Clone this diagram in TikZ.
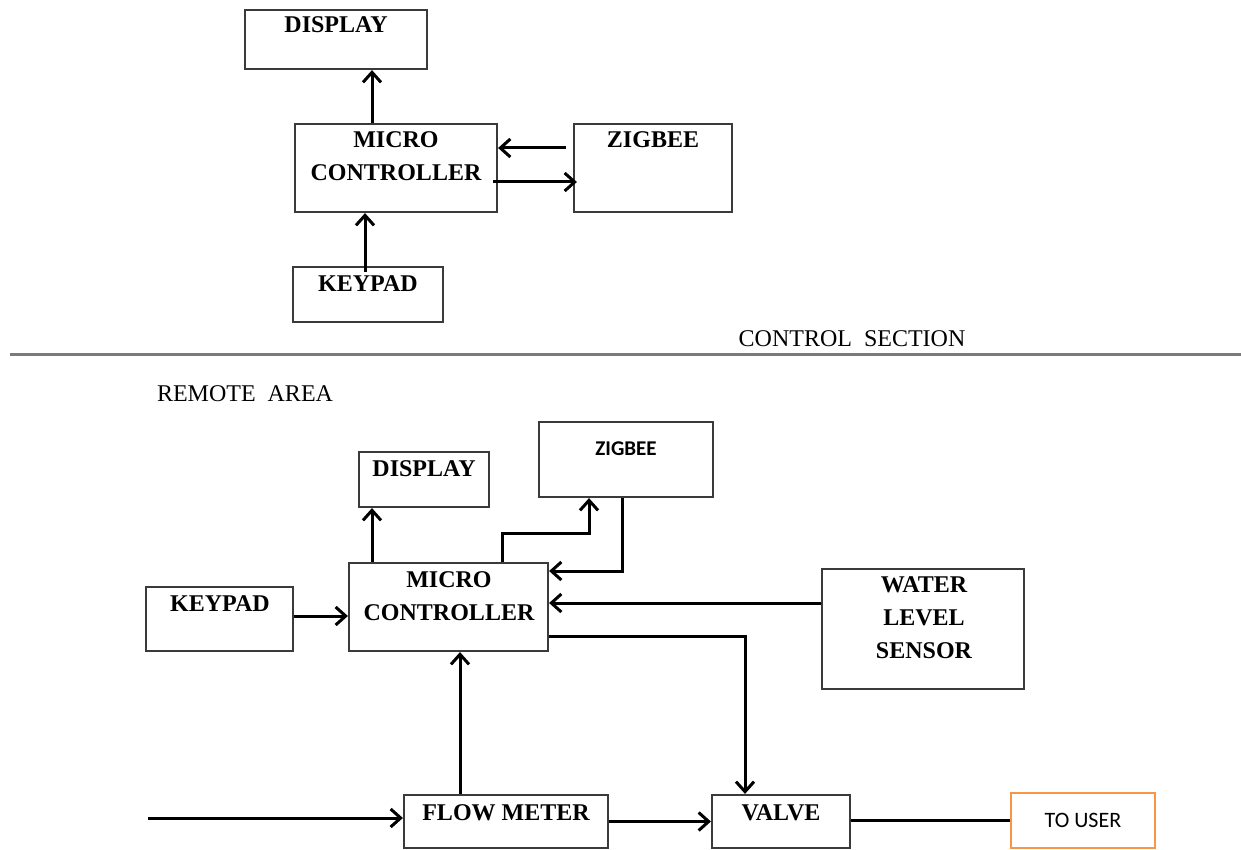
\documentclass[tikz,border=0pt]{standalone}
\usepackage{fontspec}
\setmainfont{Liberation Serif}
\newfontfamily\carl{Carlito}
\usetikzlibrary{arrows.meta,fit}
\definecolor{boxgray}{HTML}{3A3A3A}
\definecolor{sepgray}{HTML}{7A7A7A}
\definecolor{offorange}{HTML}{F79646}
\tikzset{
  box/.style={draw=boxgray, line width=1.1pt, inner sep=0pt},
  ubox/.style={draw=offorange, line width=1.4pt, inner sep=0pt},
  lbl/.style={anchor=base, inner sep=0pt, font=\fontsize{12}{14}\selectfont\bfseries},
  plain/.style={anchor=base, inner sep=0pt, font=\fontsize{12}{14}\selectfont},
  sans/.style={anchor=base, inner sep=0pt, font=\carl\fontsize{10.5}{12}\selectfont\bfseries},
  arr/.style={line width=1.5pt, black, -{Straight Barb[length=5pt,width=9pt,line width=1.5pt]}},
  wire/.style={line width=1.5pt, black},
}
\begin{document}
\begin{tikzpicture}[x=0.5pt,y=-0.5pt]
\useasboundingbox (0,0) rectangle (1241,850);
% ---------- control section ----------
\node[box, fit={(245,10)(427,69)}] (d1) {};
\node[box, fit={(295,124)(497,212)}] (mc1) {};
\node[box, fit={(574,124)(732,212)}] (z1) {};
\node[box, fit={(293,267)(443,322)}] (kp1) {};
\node[lbl] (d1t) at (336,33) {DISPLAY};
\node[lbl] (mc1a) at (396,148) {MICRO};
\node[lbl] (mc1b) at (396,181) {CONTROLLER};
\node[lbl] (z1t) at (653,148) {ZIGBEE};
\node[lbl] (kp1t) at (368,291) {KEYPAD};
\draw[arr] ([xshift=-12pt]mc1.north) -- ([xshift=-12pt]mc1.north |- d1.south);
\draw[arr] ([shift={(-3.5pt,10pt)}]z1.west) -- ([yshift=10pt]mc1.east);
\draw[arr] ([shift={(-2.5pt,-7pt)}]mc1.east) -- ([shift={(2pt,-7pt)}]z1.west);
\draw[arr] ([shift={(-1.5pt,-3pt)}]kp1.north) -- ([xshift=-1.5pt]kp1.north |- mc1.south);
% ---------- separator ----------
\coordinate (sepL) at (10,354);
\coordinate (sepR) at (1241,354);
\draw[sepgray, line width=1.5pt] (sepL) -- (sepR);
\node[plain] (cs) at (852,346) {CONTROL\ \ SECTION};
\node[plain] (ra) at (245,401) {REMOTE\ \ AREA};
% ---------- remote area ----------
\node[box, fit={(359,452)(489,507)}] (d2) {};
\node[box, fit={(539,422)(713,497)}] (z2) {};
\node[box, fit={(349,563)(548,651)}] (mc2) {};
\node[box, fit={(146,587)(293,651)}] (kp2) {};
\node[box, fit={(822,569)(1024,689)}] (wl) {};
\node[box, fit={(404,795)(608,848)}] (fm) {};
\node[box, fit={(712,795)(850,848)}] (v) {};
\node[ubox, fit={(1011,793)(1155,848)}] (tu) {};
\node[lbl] (d2t) at (424,476) {DISPLAY};
\node[sans] (z2t) at (626,455) {ZIGBEE};
\node[lbl] (mc2a) at (449,587) {MICRO};
\node[lbl] (mc2b) at (449,620) {CONTROLLER};
\node[lbl] (kp2t) at (220,611) {KEYPAD};
\node[lbl] (wla) at (924,592) {WATER};
\node[lbl] (wlb) at (924,625) {LEVEL};
\node[lbl] (wlc) at (924,658) {SENSOR};
\node[lbl] (fmt) at (506,820) {FLOW METER};
\node[lbl] (vt) at (781,820) {VALVE};
\node[anchor=base, inner sep=0pt, font=\carl\fontsize{11}{13}\selectfont] (tut) at (1083,827) {TO USER};
\coordinate (in) at (148,818);
\draw[arr] ([xshift=-38.25pt]mc2.north) -- ([xshift=-38.25pt]mc2.north |- d2.south);
\draw[arr] ([xshift=26.75pt]mc2.north) -- ++(0,14pt) -| ([xshift=-18.5pt]z2.south);
\draw[arr] ([xshift=-2pt]z2.south) |- ([yshift=18pt]mc2.east);
\draw[arr] ([yshift=2pt]mc2.east -| wl.west) -- ([yshift=2pt]mc2.east);
\draw[arr] ([yshift=-14.5pt]mc2.east) -| ([xshift=-18pt]v.north);
\draw[arr] ([yshift=1.5pt]kp2.east) -- ([yshift=1.5pt]kp2.east -| mc2.west);
\draw[arr] ([xshift=-23pt]fm.north) -- ([xshift=-23pt]fm.north |- mc2.south);
\draw[arr] (in) -- (in -| fm.west);
\draw[arr] (fm.east) -- (fm.east -| v.west);
\draw[wire] (v.east |- tu.west) -- (tu.west);
\end{tikzpicture}
\end{document}
